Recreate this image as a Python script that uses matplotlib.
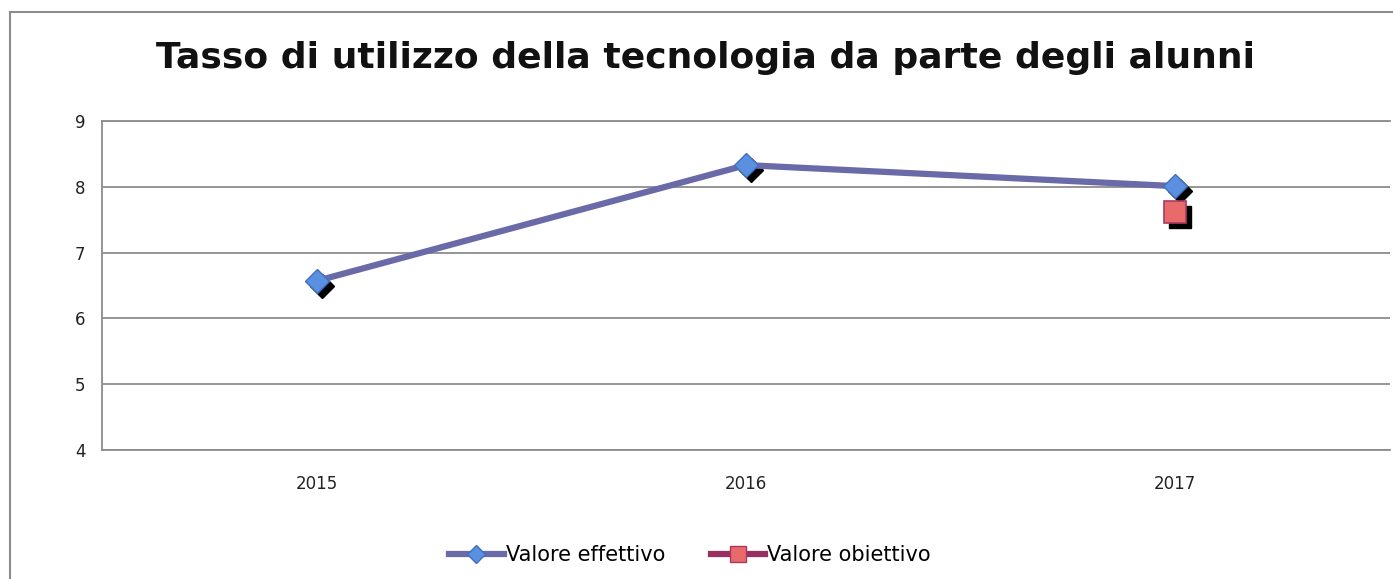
import numpy as np
import matplotlib.pyplot as plt
import matplotlib.transforms as mtransforms
from matplotlib.patches import Rectangle
from matplotlib.lines import Line2D

# Data
years = ['2015', '2016', '2017']
valore_effettivo = [6.57, 8.33, 8.01]
valore_obiettivo = [None, None, 7.62]

fig = plt.figure(figsize=(13.93, 5.79), dpi=100)

# outer chart border (cut off on the right and bottom)
fig.patches.append(Rectangle((10 / 1393, -0.1), 1.2, 1.1 - 12 / 579,
                             transform=fig.transFigure, fill=False,
                             edgecolor='#8c8c8c', linewidth=1.5))

ax = fig.add_axes([102 / 1393, 1 - 450 / 579, (1390 - 102) / 1393, (450 - 121) / 579])

x = np.arange(len(years))
line_color = '#6a6aa8'

ax.plot(x, valore_effettivo, color=line_color, linewidth=4.5, zorder=3)

# marker shadows
shadow = mtransforms.offset_copy(ax.transData, fig=fig, x=3.5, y=-3.5, units='points')
ax.plot(x, valore_effettivo, linestyle='none', marker='D', markersize=12,
        color='black', transform=shadow, zorder=2)
ax.plot(x, valore_effettivo, linestyle='none', marker='D', markersize=12,
        markerfacecolor='#5b8fe0', markeredgecolor='#3f6fc0', zorder=4)

obj_x = [i for i, v in enumerate(valore_obiettivo) if v is not None]
obj_y = [v for v in valore_obiettivo if v is not None]
ax.plot(obj_x, obj_y, linestyle='none', marker='s', markersize=16,
        color='black', transform=shadow, zorder=2)
ax.plot(obj_x, obj_y, linestyle='none', marker='s', markersize=16,
        markerfacecolor='#e96a6a', markeredgecolor='#a83a62', markeredgewidth=1.2, zorder=4)

ax.set_xlim(-0.5, 2.5)
ax.set_ylim(4, 9)
ax.set_xticks(x)
ax.set_xticklabels(years)
ax.set_yticks(range(4, 10))
ax.tick_params(length=0, labelsize=12, colors='#222222', pad=12)
ax.tick_params(axis='x', pad=18)
ax.yaxis.grid(True, color='#8c8c8c', linewidth=1.3)
ax.set_axisbelow(True)
ax.spines['right'].set_visible(False)
for side in ['left', 'bottom', 'top']:
    ax.spines[side].set_color('#8c8c8c')
    ax.spines[side].set_linewidth(1.3)

fig.text(705 / 1393, 1 - 58 / 579, 'Tasso di utilizzo della tecnologia da parte degli alunni',
         ha='center', va='center', fontsize=26, fontweight='bold', color='#111111')

handles = [
    Line2D([], [], color=line_color, linewidth=4.5, marker='D', markersize=9,
           markerfacecolor='#5b8fe0', markeredgecolor='#3f6fc0'),
    Line2D([], [], color='#9a3060', linewidth=4.5, marker='s', markersize=11,
           markerfacecolor='#e96a6a', markeredgecolor='#a83a62'),
]
fig.legend(handles, ['Valore effettivo', 'Valore obiettivo'], loc='center',
           bbox_to_anchor=(690 / 1393, 1 - 555 / 579), ncol=2, frameon=False,
           fontsize=15, handlelength=2.6, handletextpad=0.1, columnspacing=2.2)

fig.savefig('out.png', dpi=100)
